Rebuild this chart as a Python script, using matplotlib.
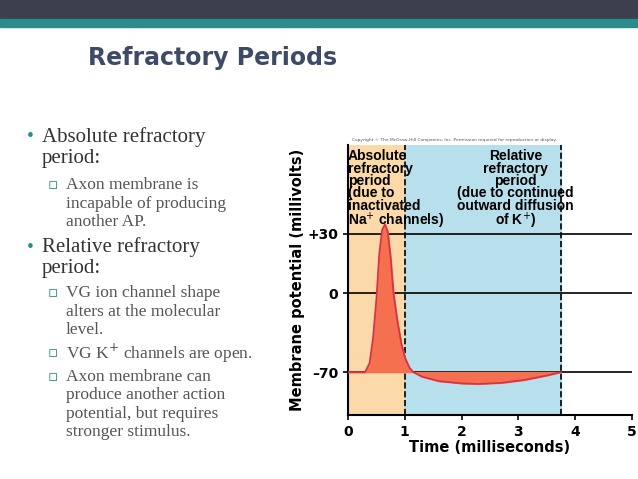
import numpy as np
import matplotlib.pyplot as plt
from matplotlib.patches import Rectangle

t = [0, 0.3, 0.38, 0.44, 0.5, 0.55, 0.6, 0.65, 0.7, 0.75, 0.8, 0.87, 0.94, 1.0, 1.08, 1.15, 1.3, 1.6, 2.0, 2.3, 2.7, 3.1, 3.5, 3.75]
v = [-70, -70, -62, -40, -5, 20, 32, 35, 31, 18, 0, -25, -45, -57, -66, -70, -74, -78, -80, -80.5, -79.5, -77, -73, -70]
yticks = [-70, 0, 30]
yticklabels = ["\u201370", "0", "+30"]
xticks = [0, 1, 2, 3, 4, 5]
abs_end, rel_end = 1.0, 3.75

def fwd(x):
    return np.interp(x, [-200, -70, 0, 30, 200], [-146.7, 0, 79, 138, 472.3])
def inv(y):
    return np.interp(y, [-146.7, 0, 79, 138, 472.3], [-200, -70, 0, 30, 200])

fig = plt.figure(figsize=(6.38, 4.79), dpi=100)
fig.patches.append(Rectangle((0, 1-18/479), 1, 18/479, transform=fig.transFigure, color="#3b3f4e"))
fig.patches.append(Rectangle((0, 1-27/479), 1, 8/479, transform=fig.transFigure, color="#2a8c8c"))
fig.text(88/638, 1-58/479, "Refractory Periods", fontsize=17, fontweight="bold", color="#3f4a66", va="center", family="DejaVu Sans")

lines = [
    (0, 137, "Absolute refractory"), (1, 159, "period:"),
    (2, 185, "Axon membrane is"), (3, 204, "incapable of producing"), (3, 222, "another AP."),
    (0, 247, "Relative refractory"), (1, 269, "period:"),
    (2, 293, "VG ion channel shape"), (3, 312, "alters at the molecular"), (3, 330, "level."),
    (2, 353, "VG K$^{+}$ channels are open."),
    (2, 377, "Axon membrane can"), (3, 395, "produce another action"), (3, 414, "potential, but requires"), (3, 432, "stronger stimulus."),
]
for kind, y, s in lines:
    yy = 1 - y/479
    if kind == 0:
        fig.text(27/638, yy, "\u2022", fontsize=14, color="#2a8c8c", va="center", family="Liberation Serif")
    if kind in (0, 1):
        fig.text(42/638, yy, s, fontsize=15, color="#333333", va="center", family="Liberation Serif")
    else:
        if kind == 2:
            fig.text(48/638, yy, "\u25ab", fontsize=11, color="#2a8c8c", va="center", family="DejaVu Sans")
        fig.text(66/638, yy, s, fontsize=12.5, color="#555555", va="center", family="Liberation Serif")

ax = fig.add_axes([348/638, 1-415/479, 284/638, 270/479])
ax.set_yscale("function", functions=(fwd, inv))
ax.set_xlim(0, 5)
ax.set_ylim(-108, 75.2)
ax.axvspan(0, abs_end, color="#fcd9a8", zorder=0)
ax.axvspan(abs_end, rel_end, color="#b7e0ec", zorder=0)
for yv in yticks:
    ax.axhline(yv, color="black", lw=1.2, zorder=2)
ax.axvline(abs_end, color="black", ls="--", lw=1.2, zorder=2)
ax.axvline(rel_end, color="black", ls="--", lw=1.2, zorder=2)
ax.fill_between(t, v, -70, color="#f4704f", zorder=3)
ax.plot(t, v, color="#d8304a", lw=1.2, zorder=4)
ax.set_xticks(xticks)
ax.set_yticks(yticks, yticklabels)
for s in ["top", "right"]:
    ax.spines[s].set_visible(False)
ax.spines["left"].set_linewidth(1.5)
ax.spines["bottom"].set_linewidth(1.5)
ax.tick_params(labelsize=10, width=1.2)
for lab in ax.get_xticklabels() + ax.get_yticklabels():
    lab.set_fontweight("bold")
ax.set_xlabel("Time (milliseconds)", fontsize=10.5, fontweight="bold", labelpad=1)
ax.set_ylabel("Membrane potential (millivolts)", fontsize=10.5, fontweight="bold", labelpad=2)
ax.text(0.0, 73, "Absolute\nrefractory\nperiod\n(due to\ninactivated\nNa$^{+}$ channels)", fontsize=10, fontweight="bold", va="top", ha="left", linespacing=0.85, zorder=5, family="Liberation Sans")
ax.text(2.95, 73, "Relative\nrefractory\nperiod\n(due to continued\noutward diffusion\nof K$^{+}$)", fontsize=10, fontweight="bold", va="top", ha="center", linespacing=0.85, zorder=5, family="Liberation Sans")
fig.text(352/638, 1-141/479, "Copyright \u00a9 The McGraw-Hill Companies, Inc. Permission required for reproduction or display.", fontsize=3.2, color="#555555")
fig.savefig("out.png", dpi=100)
